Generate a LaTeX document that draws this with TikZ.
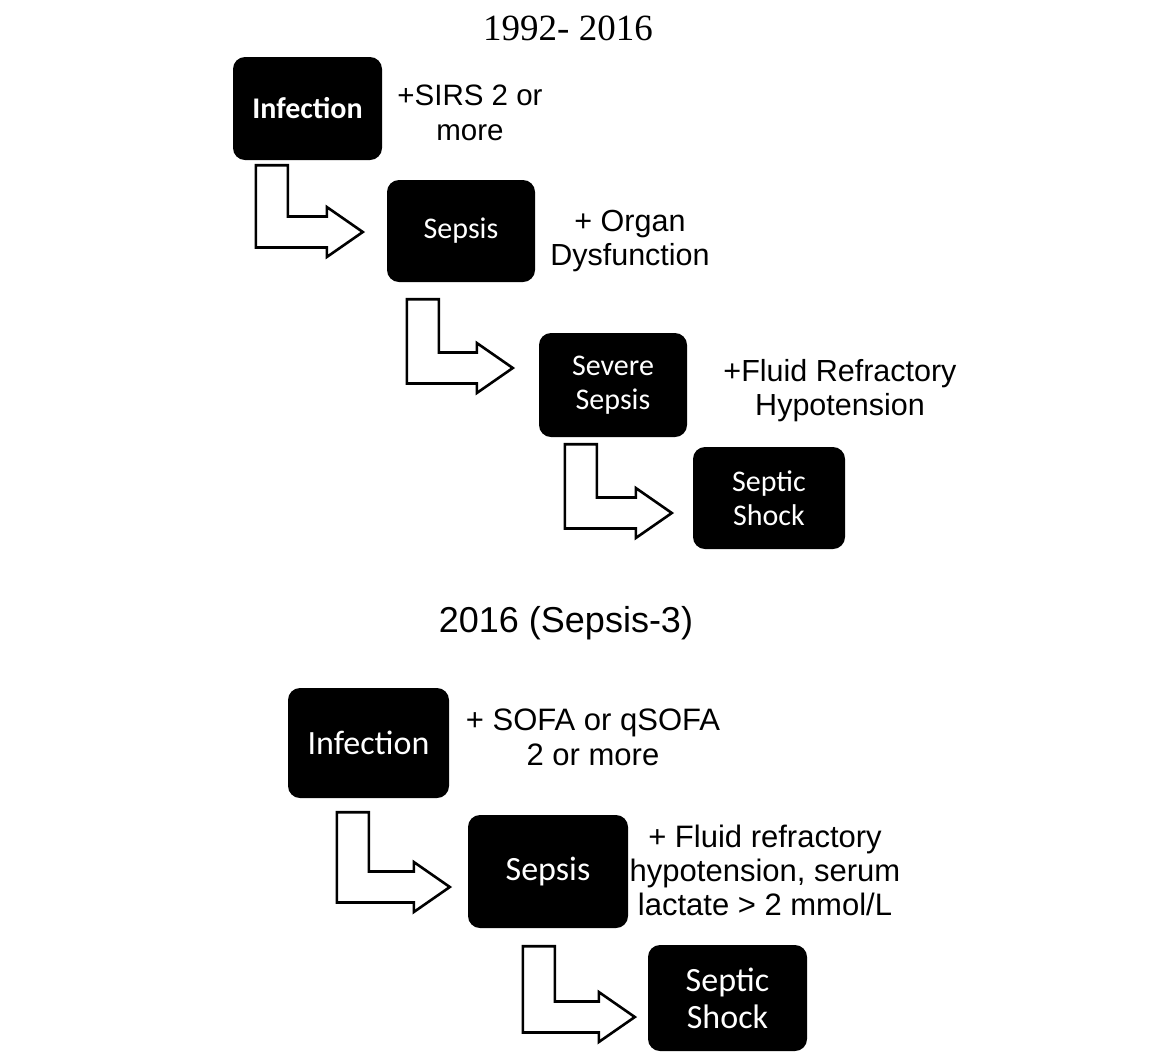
\documentclass[tikz,border=0pt]{standalone}
\usepackage{fontspec}
\setmainfont{Liberation Sans}
\newfontfamily\calibrifont{Carlito}
\newfontfamily\timesfont{Liberation Serif}
\usepackage{tikz}
\usetikzlibrary{calc}

\tikzset{
  stage/.style={fill=black, text=white, rounded corners=12pt, align=center, inner sep=0pt,
    minimum width=149pt, minimum height=103pt, font=\calibrifont\fontsize{30}{34}\selectfont},
  stagebig/.style={stage, minimum width=160pt, minimum height=111pt,
    font=\calibrifont\fontsize{34}{37}\selectfont},
  note/.style={align=center, anchor=base, inner sep=0pt, font=\fontsize{30.5}{33.5}\selectfont},
  heading/.style={anchor=base, inner sep=0pt},
  blockarrow/.style={draw=black, line width=2.6pt, fill=white, line join=miter},
}

% bent block arrow: #1 = top left of the stem, #2 = tip
\newcommand{\bentarrow}[2]{%
  \draw[blockarrow] let \p1=#1, \p2=#2 in
    (\x1,\y1) -- (\x1+32pt,\y1) -- (\x1+32pt,\y2+15.5pt) -- (\x2-36pt,\y2+15.5pt)
    -- (\x2-36pt,\y2+25pt) -- (\x2,\y2) -- (\x2-36pt,\y2-25pt) -- (\x2-36pt,\y2-15.5pt)
    -- (\x1,\y2-15.5pt) -- cycle;
}

\begin{document}
\begin{tikzpicture}[x=1pt, y=-1pt]
\fill[white] (0,0) rectangle (1167,1053);
\useasboundingbox (0,0) rectangle (1167,1053);

% 1992 - 2016
\node[heading, font=\timesfont\fontsize{37}{40}\selectfont] (titleold) at (568,40) {1992- 2016};

\node[stage] (inf1) at (307.5,108.5) {\bfseries Infection};
\node[stage, minimum width=148pt, minimum height=102pt] (sep1) at (461,231) {Sepsis};
\node[stage, minimum width=148pt, minimum height=104pt] (sev1) at (613,385) {Severe\\Sepsis};
\node[stage, minimum width=152pt, minimum height=102pt] (shock1) at (769,498) {Septic\\Shock};

% notes are placed at the baseline of their last line
\node[note, font=\fontsize{29.5}{35}\selectfont] (sirs) at (470,140) {+SIRS 2 or\\more};
\node[note] (organ) at (630,265) {+ Organ\\Dysfunction};
\node[note] (fluid1) at (840,415) {+Fluid Refractory\\Hypotension};

\bentarrow{($(inf1.south west)+(23,5)$)}{($(sep1.west)+(-24,1)$)}
\bentarrow{($(sep1.south west)+(20,17)$)}{($(sev1.west)+(-26,-17)$)}
\bentarrow{($(sev1.south west)+(26,7)$)}{($(shock1.west)+(-21,15)$)}

% 2016 (Sepsis-3)
\node[heading, font=\fontsize{36}{40}\selectfont] (titlenew) at (566,632) {2016 (Sepsis-3)};

\node[stagebig, minimum width=161pt, minimum height=110pt] (inf2) at (368.5,743) {Infection};
\node[stagebig, minimum height=113pt] (sep2) at (548,871.5) {Sepsis};
\node[stagebig, minimum width=159pt, minimum height=106pt] (shock2) at (727.5,998) {Septic\\Shock};

\node[note, font=\fontsize{31}{35}\selectfont] (sofa) at (593,765) {+ SOFA or qSOFA\\2 or more};
\node[note, font=\fontsize{31}{34}\selectfont] (fluid2) at (765,915) {+ Fluid refractory\\hypotension, serum\\lactate > 2 mmol/L};

\bentarrow{($(inf2.south west)+(49,14)$)}{($(sep2.west)+(-18,15.5)$)}
\bentarrow{($(sep2.south west)+(55,18)$)}{($(shock2.west)+(-13,19)$)}
\end{tikzpicture}
\end{document}
